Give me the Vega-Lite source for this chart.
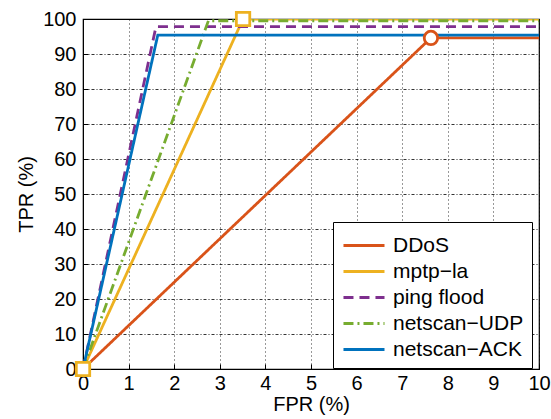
{
  "$schema": "https://vega.github.io/schema/vega-lite/v6.json",
  "width": 456,
  "height": 350,
  "autosize": {"type": "none"},
  "padding": {"left": 83, "top": 19, "right": 12, "bottom": 50},
  "background": "white",
  "config": {
    "font": "Liberation Sans",
    "view": {"stroke": "black", "strokeWidth": 1.2},
    "axis": {
      "domainColor": "black",
      "tickColor": "black",
      "labelColor": "black",
      "titleColor": "black",
      "labelFont": "Liberation Sans",
      "titleFont": "Liberation Sans",
      "labelFontSize": 20,
      "titleFontSize": 20,
      "titleFontWeight": "normal",
      "gridColor": "black",
      "gridOpacity": 0.8,
      "tickSize": -5,
      "labelOverlap": false,
      "labelFlush": false,
      "grid": true
    }
  },
  "data": {
    "values": [
      {"series": "DDoS", "fpr": 0, "tpr": 0},
      {"series": "DDoS", "fpr": 7.63, "tpr": 94.6},
      {"series": "DDoS", "fpr": 10, "tpr": 94.6},
      {"series": "mptp-la", "fpr": 0, "tpr": 0},
      {"series": "mptp-la", "fpr": 3.51, "tpr": 100},
      {"series": "mptp-la", "fpr": 10, "tpr": 100},
      {"series": "ping flood", "fpr": 0, "tpr": 0},
      {"series": "ping flood", "fpr": 1.6, "tpr": 97.8},
      {"series": "ping flood", "fpr": 10, "tpr": 97.8},
      {"series": "netscan-UDP", "fpr": 0, "tpr": 0},
      {"series": "netscan-UDP", "fpr": 2.75, "tpr": 99.5},
      {"series": "netscan-UDP", "fpr": 10, "tpr": 99.5},
      {"series": "netscan-ACK", "fpr": 0, "tpr": 0},
      {"series": "netscan-ACK", "fpr": 1.64, "tpr": 95.4},
      {"series": "netscan-ACK", "fpr": 10, "tpr": 95.4}
    ]
  },
  "encoding": {
    "x": {"field": "fpr", "type": "quantitative", "title": "FPR (%)",
          "scale": {"domain": [0, 10], "nice": false},
          "axis": {"values": [0,1,2,3,4,5,6,7,8,9,10], "labelPadding": 9, "titlePadding": 1, "gridDash": [1, 3]}},
    "y": {"field": "tpr", "type": "quantitative", "title": "TPR (%)",
          "scale": {"domain": [0, 100], "nice": false},
          "axis": {"values": [0,10,20,30,40,50,60,70,80,90,100], "tickCount": 11, "labelPadding": 12, "titlePadding": 6, "gridDash": [3, 2, 1, 2]}}
  },
  "layer": [
    {
      "mark": {"type": "line", "strokeWidth": 2.8, "clip": true},
      "encoding": {
        "color": {"field": "series", "type": "nominal",
                  "scale": {"domain": ["DDoS", "mptp-la", "ping flood", "netscan-UDP", "netscan-ACK"],
                            "range": ["#D95319", "#EDB120", "#7E2F8E", "#77AC30", "#0072BD"]},
                  "legend": {
                    "title": null,
                    "orient": "none",
                    "legendX": 250,
                    "legendY": 203,
                    "symbolType": "M-0.93,0H2",
                    "symbolStrokeWidth": 3,
                    "symbolSize": 784,
                    "labelFontSize": 21,
                    "labelColor": "black",
                    "labelFont": "Liberation Sans",
                    "labelExpr": "replace(datum.label, '-', '\u2212')",
                    "strokeColor": "black",
                    "fillColor": "white",
                    "padding": 8,
                    "rowPadding": -2,
                    "labelOffset": 21
                  }},
        "strokeDash": {"field": "series", "type": "nominal",
                       "scale": {"domain": ["DDoS", "mptp-la", "ping flood", "netscan-UDP", "netscan-ACK"],
                                 "range": [[1, 0], [1, 0], [10, 6], [10, 4, 2, 4], [1, 0]]},
                       "legend": null},
        "order": {"field": "fpr", "type": "quantitative"}
      }
    },
    {
      "transform": [
        {"filter": "(datum.series === 'DDoS' || datum.series === 'mptp-la') && datum.fpr < 10"}
      ],
      "mark": {"type": "point", "filled": false, "strokeWidth": 2.8, "size": 180, "fill": "white", "fillOpacity": 1, "opacity": 1},
      "encoding": {
        "color": {"field": "series", "type": "nominal", "legend": null},
        "shape": {"field": "series", "type": "nominal",
                  "scale": {"domain": ["DDoS", "mptp-la"], "range": ["circle", "square"]},
                  "legend": null}
      }
    }
  ]
}
